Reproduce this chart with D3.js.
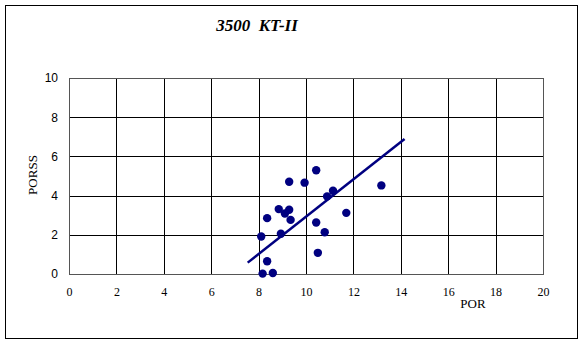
<!DOCTYPE html>
<html>
<head>
<meta charset="utf-8">
<script src="https://cdn.jsdelivr.net/npm/d3@7"></script>
<style>
html,body{margin:0;padding:0;background:#fff;}
</style>
</head>
<body>
<div id="chart"></div>
<script>
(function(){

const width = 585;
const height = 346;
const margin = {top:78,right:42,bottom:72,left:69};

// data
const porValues = [8.17,8.60,8.36,8.11,8.36,8.94,8.85,9.11,9.29,9.35,9.29,9.94,10.43,10.43,10.50,10.79,10.89,11.14,11.70,13.18];
const porssValues = [0.02,0.05,0.65,1.91,2.85,2.05,3.31,3.09,3.28,2.76,4.71,4.66,5.29,2.63,1.08,2.13,3.96,4.25,3.12,4.52];
const trendX = [7.54,14.16];
const trendY = [0.58,6.89];
const xTicks = [0,2,4,6,8,10,12,14,16,18,20];
const yTicks = [0,2,4,6,8,10];

const svg = d3.select("#chart")
.append("svg")
.attr("width",width)
.attr("height",height);

// outer frame
svg.append("rect")
.attr("x",5.5).attr("y",5.5)
.attr("width",572).attr("height",333)
.attr("fill","#fff")
.attr("stroke","#000");

const x = d3.scaleLinear()
.domain([0,20])
.range([margin.left,width-margin.right]);

const y = d3.scaleLinear()
.domain([0,10])
.range([height-margin.bottom,margin.top]);

// grid
svg.append("g")
.selectAll("line")
.data(xTicks)
.enter()
.append("line")
.attr("x1",d=>Math.round(x(d))+0.5)
.attr("x2",d=>Math.round(x(d))+0.5)
.attr("y1",y(10))
.attr("y2",y(0))
.attr("stroke","#000");

svg.append("g")
.selectAll("line")
.data(yTicks)
.enter()
.append("line")
.attr("x1",x(0))
.attr("x2",x(20))
.attr("y1",d=>Math.round(y(d))+0.5)
.attr("y2",d=>Math.round(y(d))+0.5)
.attr("stroke","#000");

// plot border
svg.append("rect")
.attr("x",Math.round(x(0))+0.5)
.attr("y",Math.round(y(10))+0.5)
.attr("width",Math.round(x(20))-Math.round(x(0)))
.attr("height",Math.round(y(0))-Math.round(y(10)))
.attr("fill","none")
.attr("stroke","#555");

// axes
const xAxis = svg.append("g")
.attr("transform",`translate(0,${y(0)})`)
.call(d3.axisBottom(x).tickValues(xTicks).tickSize(0).tickPadding(13));
xAxis.select(".domain").remove();
xAxis.selectAll("text")
.attr("font-family","'Liberation Serif', serif")
.attr("font-size","12px")
.attr("fill","#000");

const yAxis = svg.append("g")
.attr("transform",`translate(${x(0)},0)`)
.call(d3.axisLeft(y).tickValues(yTicks).tickSize(0).tickPadding(11));
yAxis.select(".domain").remove();
yAxis.selectAll("text")
.attr("font-family","'Liberation Sans', sans-serif")
.attr("font-size","12px")
.attr("fill","#000");

// trend line
svg.append("line")
.attr("x1",x(trendX[0]))
.attr("y1",y(trendY[0]))
.attr("x2",x(trendX[1]))
.attr("y2",y(trendY[1]))
.attr("stroke","#000080")
.attr("stroke-width",2.5);

// points
svg.selectAll("circle.pt")
.data(porValues)
.enter()
.append("circle")
.attr("class","pt")
.attr("cx",d=>x(d))
.attr("cy",(d,i)=>y(porssValues[i]))
.attr("r",4.2)
.attr("fill","#000080");

// title
svg.append("text")
.attr("x",257)
.attr("y",31)
.attr("text-anchor","middle")
.attr("font-family","'Liberation Serif', serif")
.attr("font-size","17px")
.attr("font-weight","bold")
.attr("font-style","italic")
.style("white-space","pre")
.text("3500  KT-II");

// x label
svg.append("text")
.attr("x",473)
.attr("y",308)
.attr("text-anchor","middle")
.attr("font-family","'Liberation Serif', serif")
.attr("font-size","13px")
.text("POR");

// y label
svg.append("text")
.attr("transform","rotate(-90)")
.attr("x",-175)
.attr("y",37)
.attr("text-anchor","middle")
.attr("font-family","'Liberation Serif', serif")
.attr("font-size","13px")
.text("PORSS");

})();
</script>
</body>
</html>
